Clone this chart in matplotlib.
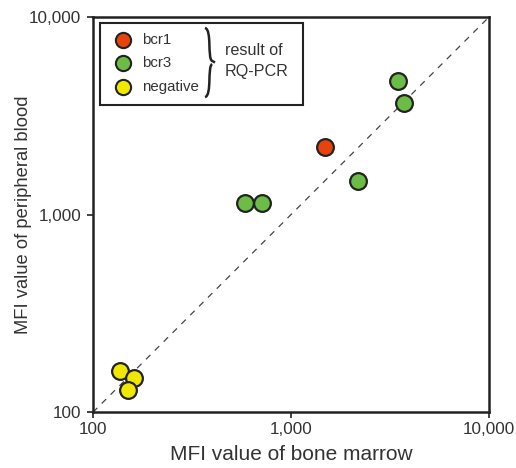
import numpy as np
import matplotlib
matplotlib.use("Agg")
import matplotlib.pyplot as plt
from matplotlib.patches import Rectangle, PathPatch
from matplotlib.path import Path
from matplotlib.ticker import FixedLocator, NullLocator

plt.rcParams['font.family'] = ['Liberation Sans', 'DejaVu Sans']

# MFI values (bone marrow, peripheral blood)
bcr1_bm = [1485]
bcr1_pb = [2205]
bcr3_bm = [3460, 3710, 2170, 586, 711]
bcr3_pb = [4740, 3680, 1480, 1140, 1140]
neg_bm = [137, 161, 150]
neg_pb = [161, 149, 129]

groups = ["bcr1", "bcr3", "negative"]
colors = ["#e8430c", "#6cbd45", "#f0e800"]
tick_vals = [100, 1000, 10000]
tick_labels = ["100", "1,000", "10,000"]

txt = "#333333"
edge = "#222222"

fig = plt.figure(figsize=(5.16, 4.68), dpi=100)
ax = fig.add_axes([0.180, 0.119, 0.768, 0.845])
ax.set_xscale("log")
ax.set_yscale("log")
ax.set_xlim(100, 10000)
ax.set_ylim(100, 10000)

ax.plot([100, 10000], [100, 10000], color="#444444", lw=0.9,
        dashes=(5, 5), zorder=1)

data = [(bcr1_bm, bcr1_pb), (bcr3_bm, bcr3_pb), (neg_bm, neg_pb)]
for (xs, ys), c in zip(data, colors):
    ax.scatter(xs, ys, s=145, c=c, edgecolors=edge, linewidths=1.6, zorder=3)

ax.xaxis.set_major_locator(FixedLocator(tick_vals))
ax.yaxis.set_major_locator(FixedLocator(tick_vals))
ax.xaxis.set_minor_locator(NullLocator())
ax.yaxis.set_minor_locator(NullLocator())
ax.set_xticklabels(tick_labels)
ax.set_yticklabels(tick_labels)
ax.tick_params(length=4, width=1.2, color=edge, labelsize=12.3, labelcolor=txt, pad=3)
ax.tick_params(axis="y", pad=4.5)
for sp in ax.spines.values():
    sp.set_linewidth(1.8)
    sp.set_color(edge)

ax.set_xlabel("MFI value of bone marrow", fontsize=15, color=txt, labelpad=6)
ax.set_ylabel("MFI value of peripheral blood", fontsize=13.2, color=txt, labelpad=-2)

# legend box drawn by hand so the brace fits inside
ax.add_patch(Rectangle((0.018, 0.777), 0.512, 0.208, transform=ax.transAxes,
                       fill=False, ec=edge, lw=1.5, zorder=4))
rows = [0.942, 0.884, 0.823]
for g, c, yy in zip(groups, colors, rows):
    ax.scatter([0.077], [yy], s=120, c=c, edgecolors=edge, linewidths=1.5,
               transform=ax.transAxes, zorder=5, clip_on=False)
    ax.text(0.125, yy, g, transform=ax.transAxes, fontsize=10.8, color=txt,
            va="center", ha="left")

# curly brace
bx, top, bot = 0.283, 0.972, 0.797
mid = (top + bot) / 2
w = 0.018
brace = Path([(bx, top), (bx + w, top - 0.005), (bx + 0.3 * w, mid + 0.01), (bx + w, mid + 0.004),
              (bx + 1.4 * w, mid),
              (bx + w, mid - 0.004), (bx + 0.3 * w, mid - 0.01), (bx + w, bot + 0.005), (bx, bot)],
             [Path.MOVETO, Path.CURVE4, Path.CURVE4, Path.CURVE4, Path.LINETO,
              Path.MOVETO, Path.CURVE4, Path.CURVE4, Path.CURVE4])
ax.add_patch(PathPatch(brace, transform=ax.transAxes, fill=False, ec=edge,
                       lw=1.8, zorder=5, clip_on=False))
ax.text(0.333, 0.914, "result of", transform=ax.transAxes, fontsize=11.6,
        color=txt, va="center", ha="left")
ax.text(0.333, 0.861, "RQ-PCR", transform=ax.transAxes, fontsize=11.6,
        color=txt, va="center", ha="left")

fig.savefig("out.png", dpi=100)
